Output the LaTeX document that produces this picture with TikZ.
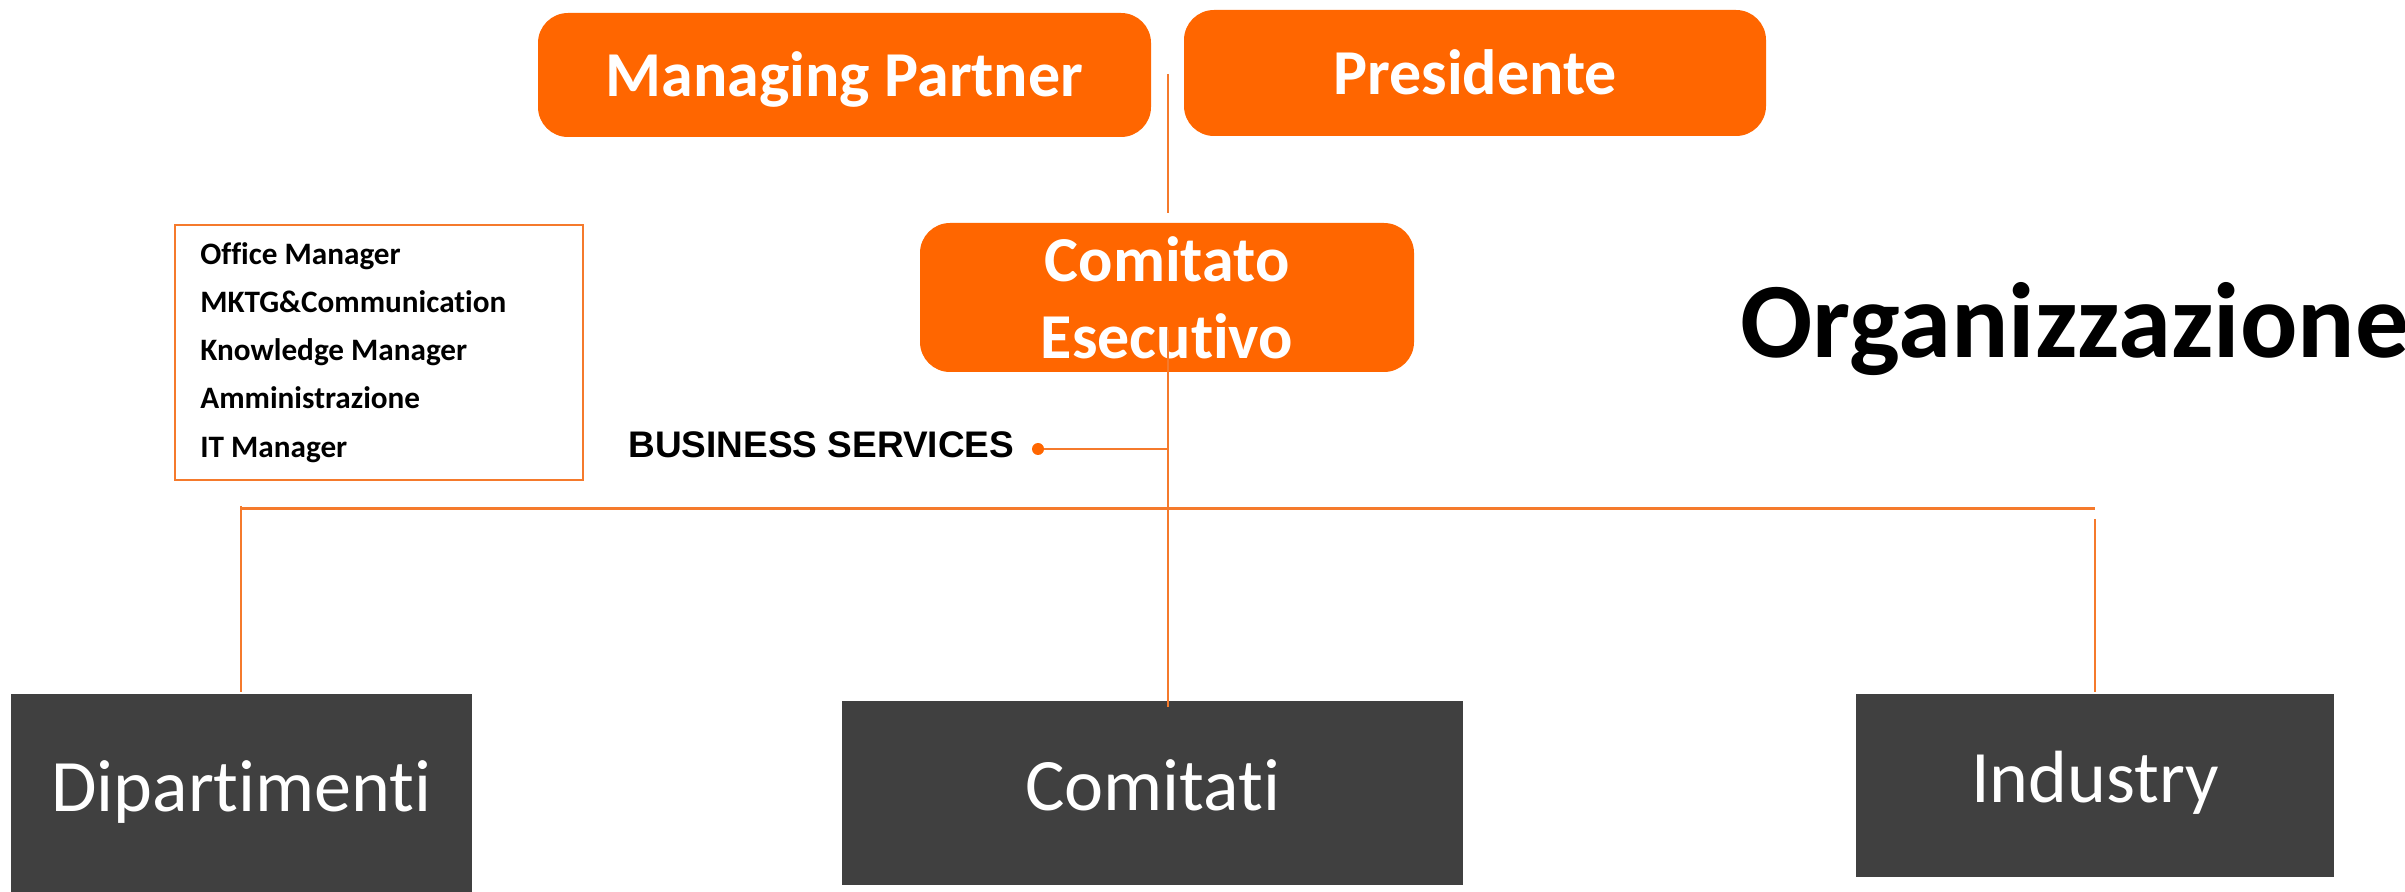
\documentclass[tikz,border=0pt]{standalone}
\usepackage{fontspec}
\setmainfont{Carlito}[RawFeature={-liga;-clig;-dlig}]
\newfontfamily\arialfont{Liberation Sans}
\definecolor{orgorange}{HTML}{FF6600}
\definecolor{lineorange}{HTML}{F57A2C}
\definecolor{boxgrey}{HTML}{404040}
\tikzset{
  topbox/.style={fill=orgorange, rounded corners=15pt, text=white, font=\fontsize{32}{38.5}\selectfont\bfseries, inner sep=0pt},
  greybox/.style={fill=boxgrey, text=white, font=\fontsize{37}{44}\selectfont, inner sep=0pt},
  conn/.style={draw=lineorange, line width=0.6pt},
  officetxt/.style={anchor=base west, font=\fontsize{15.6}{18}\selectfont\bfseries, inner sep=0pt},
}
\begin{document}
\begin{tikzpicture}[x=0.5pt,y=-0.5pt]
\useasboundingbox (0,0) rectangle (2405,892);
% top boxes
\node[topbox, minimum width=306.5pt, minimum height=62pt, text height=22pt, text depth=0pt] (mp) at (844.5,75) {Managing Partner};
\node[topbox, minimum width=291pt, minimum height=63pt, text height=22pt, text depth=0pt] (pres) at (1475,73) {Presidente};
\node[topbox, minimum width=247pt, minimum height=74.5pt, align=center] (ce) at (1167,297.5) {Comitato\\Esecutivo};
\coordinate (topc) at (1168,74);
\draw[conn] (topc) -- ([yshift=5pt]topc |- ce.north);
% office box
\node[draw=lineorange, line width=0.8pt, minimum width=204pt, minimum height=127.5pt, inner sep=0pt] (office) at (379,352.5) {};
\node[officetxt] (o1) at (200,265) {Office Manager};
\node[officetxt] (o2) at (200,313) {MKTG\&Communication};
\node[officetxt] (o3) at (200,361) {Knowledge Manager};
\node[officetxt] (o4) at (200,409) {Amministrazione};
\node[officetxt] (o5) at (200,458) {IT Manager};
% business services
\node[anchor=base west, inner sep=0pt, font=\arialfont\bfseries\fontsize{18.5}{22}\selectfont] (bs) at (628,458) {BUSINESS SERVICES};
\node[circle, fill=orgorange, minimum size=6pt, inner sep=0pt] (dot) at (1038,449) {};
% bottom boxes
\node[greybox, minimum width=230.5pt, minimum height=99pt, text height=19pt, text depth=0pt] (dip) at (241.5,793) {Dipartimenti};
\node[greybox, minimum width=310.5pt, minimum height=92pt, text height=17pt, text depth=0pt] (com) at (1152.5,793) {Comitati};
\node[greybox, minimum width=239pt, minimum height=91.5pt, text height=16.5pt, text depth=0pt] (ind) at (2095,785.5) {Industry};
% title
\node[anchor=base west, inner sep=0pt, font=\fontsize{53.5}{60}\selectfont\bfseries] (title) at (1740,358) {Organizzazione};
% connectors
\coordinate (cmid) at (1168,330);
\coordinate (bar) at (1168,449);
\coordinate (hl) at (241,509);
\coordinate (hr) at (2095,509);
\draw[conn] (cmid) -- ([yshift=-3pt]cmid |- com.north);
\draw[conn, line width=1pt] (dot) -- (bar);
\draw[draw=lineorange, line width=1.5pt] (hl) -- (hr);
\draw[conn] ([yshift=1.5pt]hl) -- ([yshift=1pt]hl |- dip.north);
\draw[conn] ([yshift=-5pt]hr) -- ([yshift=1pt]hr |- ind.north);
\end{tikzpicture}
\end{document}
